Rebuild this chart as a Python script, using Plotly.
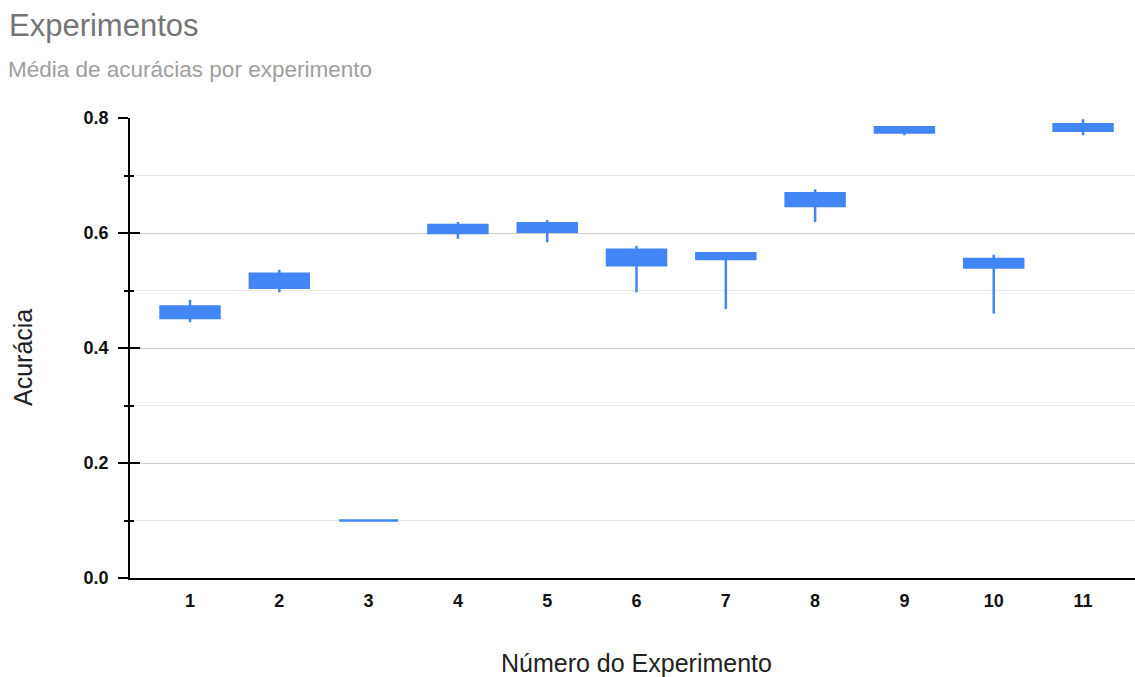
import plotly.graph_objects as go

# Accuracy spread per experiment (box = open/close band, whiskers = high/low)
EXPERIMENTS = [1, 2, 3, 4, 5, 6, 7, 8, 9, 10, 11]
X_TICK_LABELS = ["1", "2", "3", "4", "5", "6", "7", "8", "9", "10", "11"]
ACC_OPEN = [0.452, 0.505, 0.100, 0.600, 0.602, 0.544, 0.555, 0.647, 0.775, 0.540, 0.778]
ACC_CLOSE = [0.472, 0.529, 0.100, 0.614, 0.617, 0.571, 0.565, 0.669, 0.784, 0.555, 0.789]
ACC_HIGH = [0.484, 0.536, 0.100, 0.619, 0.622, 0.578, 0.566, 0.676, 0.785, 0.562, 0.798]
ACC_LOW = [0.445, 0.497, 0.100, 0.590, 0.584, 0.497, 0.468, 0.619, 0.770, 0.460, 0.770]

Y_TICKS = [0.0, 0.2, 0.4, 0.6, 0.8]
Y_TICK_LABELS = ["0.0", "0.2", "0.4", "0.6", "0.8"]

BLUE = "#4285F4"
FONT = "Liberation Sans, Arial, sans-serif"

# plot area in pixels: x 130..1135, y 118..578
PLOT_L, PLOT_W, PLOT_B, PLOT_H = 130, 1005, 578, 460


def px_x(p):
    return (p - PLOT_L) / PLOT_W


def px_y(p):
    return (PLOT_B - p) / PLOT_H


fig = go.Figure()
fig.add_trace(go.Candlestick(
    x=EXPERIMENTS,
    open=ACC_OPEN, high=ACC_HIGH, low=ACC_LOW, close=ACC_CLOSE,
    increasing=dict(line=dict(color=BLUE, width=2.5), fillcolor=BLUE),
    decreasing=dict(line=dict(color=BLUE, width=2.5), fillcolor=BLUE),
    whiskerwidth=0,
    showlegend=False,
))
# empty trace to host the overlaid axis that gives the ticks their inner half
fig.add_trace(go.Scatter(x=[], y=[], yaxis="y2", showlegend=False, hoverinfo="skip"))

fig.update_layout(
    width=1135, height=677,
    margin=dict(l=130, r=0, t=118, b=99),
    paper_bgcolor="white", plot_bgcolor="white",
    font=dict(family=FONT, color="#222222"),
    boxgap=0.34, boxgroupgap=0,
    showlegend=False,
    title=dict(
        text="Experimentos",
        font=dict(size=31, color="#757575", family=FONT),
        xref="container", x=9 / 1135, xanchor="left",
        yref="container", y=1 - 14 / 677, yanchor="top",
    ),
    annotations=[
        dict(
            text="Média de acurácias por experimento",
            xref="paper", yref="paper", x=px_x(6), y=px_y(70),
            xanchor="left", yanchor="middle", showarrow=False,
            font=dict(size=22.5, color="#9e9e9e", family=FONT),
        ),
        dict(
            text="Número do Experimento",
            xref="paper", yref="paper", x=px_x(636), y=px_y(663),
            xanchor="center", yanchor="middle", showarrow=False,
            font=dict(size=25, color="#222222", family=FONT),
        ),
        dict(
            text="Acurácia", textangle=-90,
            xref="paper", yref="paper", x=px_x(23), y=px_y(358),
            xanchor="center", yanchor="middle", showarrow=False,
            font=dict(size=25, color="#222222", family=FONT),
        ),
    ],
    xaxis=dict(
        range=[0.328, 11.582],
        tickmode="array", tickvals=EXPERIMENTS, ticktext=X_TICK_LABELS,
        tickfont=dict(size=18, color="#111111", family=FONT, weight="bold"),
        ticks="", ticklabelstandoff=6,
        showgrid=False, zeroline=False,
        showline=True, linecolor="#000000", linewidth=1.5,
        rangeslider=dict(visible=False),
    ),
    yaxis=dict(
        range=[0, 0.8],
        tickmode="array", tickvals=Y_TICKS, ticktext=Y_TICK_LABELS,
        tickfont=dict(size=18, color="#111111", family=FONT, weight="bold"),
        ticks="outside", ticklen=10, tickwidth=1.5, tickcolor="#000000",
        ticklabelstandoff=6,
        showgrid=True, gridcolor="#cccccc", gridwidth=1,
        zeroline=False,
        showline=True, linecolor="#000000", linewidth=1.5,
        minor=dict(tickmode="linear", tick0=0, dtick=0.1, ticks="outside", ticklen=4,
                   tickwidth=1.5, tickcolor="#000000", showgrid=True,
                   gridcolor="#e6e6e6", gridwidth=1),
    ),
    yaxis2=dict(
        overlaying="y", side="left", range=[0, 0.8],
        tickmode="array", tickvals=Y_TICKS, showticklabels=False,
        ticks="inside", ticklen=10, tickwidth=1.5, tickcolor="#000000",
        showgrid=False, zeroline=False, showline=False,
        minor=dict(tickmode="linear", tick0=0, dtick=0.1, ticks="inside", ticklen=4,
                   tickwidth=1.5, tickcolor="#000000", showgrid=False),
    ),
)

fig.write_html("out.html")
